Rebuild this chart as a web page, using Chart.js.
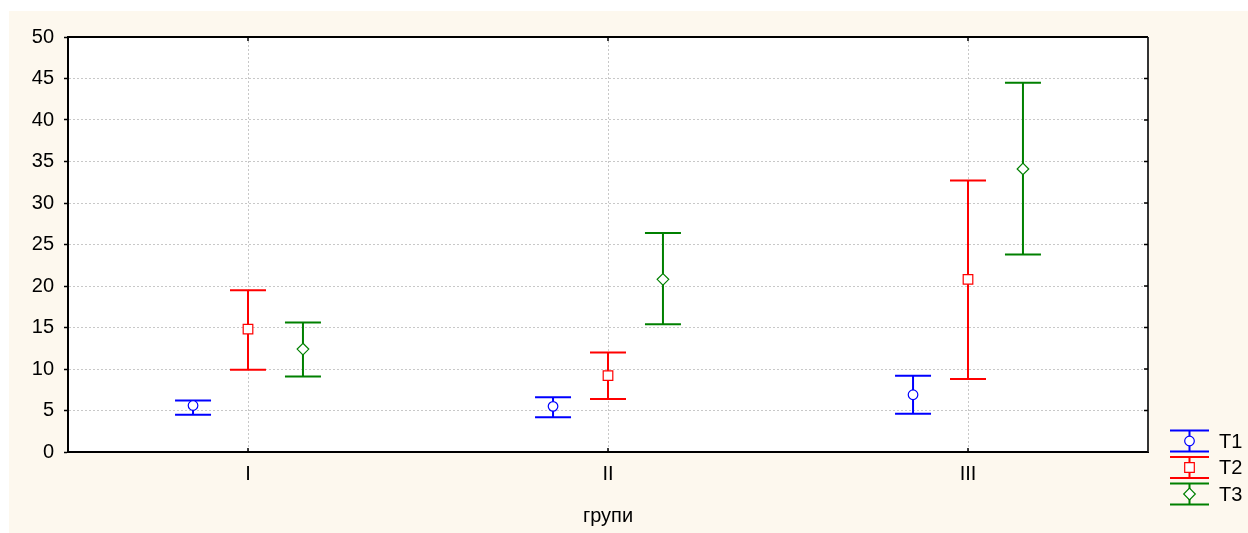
<!DOCTYPE html>
<html>
<head>
<meta charset="utf-8">
<script src="https://cdn.jsdelivr.net/npm/chart.js@4/dist/chart.umd.min.js"></script>
<style>
  html, body { margin: 0; padding: 0; background: #fff; }
  #chart { display: block; }
</style>
</head>
<body>
<canvas id="chart" width="1248" height="533"></canvas>
<script>
const groups = ["I", "II", "III"];
const yTicks = [0, 5, 10, 15, 20, 25, 30, 35, 40, 45, 50];
const axisTitle = "групи";

// means and interval bounds
const t1Mean = [5.6, 5.5, 6.9];
const t1Low = [4.5, 4.2, 4.6];
const t1High = [6.2, 6.6, 9.2];

const t2Mean = [14.8, 9.2, 20.8];
const t2Low = [9.9, 6.4, 8.8];
const t2High = [19.5, 12.0, 32.7];

const t3Mean = [12.4, 20.8, 34.1];
const t3Low = [9.1, 15.4, 23.8];
const t3High = [15.6, 26.4, 44.5];

const FONT = "'Liberation Sans', Arial, sans-serif";

function ranges(low, high) {
  return low.map((lo, i) => [lo, high[i]]);
}

function drawMarker(ctx, shape, x, y, color) {
  ctx.save();
  ctx.lineWidth = 1.2;
  ctx.strokeStyle = color;
  ctx.fillStyle = "#fff";
  ctx.beginPath();
  if (shape === "circle") {
    ctx.arc(x, y, 4.8, 0, Math.PI * 2);
  } else if (shape === "rect") {
    ctx.rect(x - 4.8, y - 4.8, 9.6, 9.6);
  } else {
    ctx.moveTo(x, y - 5.8);
    ctx.lineTo(x + 5.8, y);
    ctx.lineTo(x, y + 5.8);
    ctx.lineTo(x - 5.8, y);
    ctx.closePath();
  }
  ctx.fill();
  ctx.stroke();
  ctx.restore();
}

function drawWhisker(ctx, x, half, yTop, yBot, color) {
  ctx.save();
  ctx.strokeStyle = color;
  ctx.lineWidth = 2;
  ctx.beginPath();
  ctx.moveTo(x - half, yTop); ctx.lineTo(x + half, yTop);
  ctx.moveTo(x - half, yBot); ctx.lineTo(x + half, yBot);
  ctx.moveTo(x, yTop); ctx.lineTo(x, yBot);
  ctx.stroke();
  ctx.restore();
}

const backgroundPlugin = {
  id: "background",
  beforeDraw(chart) {
    const { ctx, width, height, chartArea } = chart;
    ctx.save();
    ctx.fillStyle = "#fff";
    ctx.fillRect(0, 0, width, height);
    ctx.fillStyle = "#fdf8ee";
    ctx.fillRect(9, 11, width - 9, height - 11);
    ctx.fillStyle = "#fff";
    ctx.fillRect(chartArea.left, chartArea.top, chartArea.right - chartArea.left, chartArea.bottom - chartArea.top);
    ctx.restore();
  }
};

const errorBarPlugin = {
  id: "errorBars",
  afterDatasetsDraw(chart) {
    const { ctx, chartArea } = chart;
    const yScale = chart.scales.y;
    const xScale = chart.scales.x;

    // frame: top and right edges plus inner ticks
    ctx.save();
    ctx.strokeStyle = "#000";
    ctx.lineWidth = 2;
    ctx.beginPath();
    ctx.moveTo(chartArea.left, chartArea.top);
    ctx.lineTo(chartArea.right, chartArea.top);
    ctx.stroke();
    ctx.strokeStyle = "#333";
    ctx.beginPath();
    ctx.moveTo(chartArea.right, chartArea.top);
    ctx.lineTo(chartArea.right, chartArea.bottom);
    ctx.stroke();
    ctx.lineWidth = 1.5;
    ctx.strokeStyle = "#000";
    ctx.beginPath();
    yTicks.forEach((v) => {
      const y = yScale.getPixelForValue(v);
      ctx.moveTo(chartArea.right - 4, y);
      ctx.lineTo(chartArea.right, y);
    });
    groups.forEach((g, i) => {
      const x = xScale.getPixelForValue(i);
      ctx.moveTo(x, chartArea.top);
      ctx.lineTo(x, chartArea.top + 4);
      ctx.moveTo(x, chartArea.bottom);
      ctx.lineTo(x, chartArea.bottom - 4);
    });
    ctx.stroke();
    ctx.restore();

    chart.data.datasets.forEach((ds, i) => {
      const meta = chart.getDatasetMeta(i);
      meta.data.forEach((bar, j) => {
        const [lo, hi] = ds.data[j];
        const half = bar.width / 2;
        drawWhisker(ctx, bar.x, half, yScale.getPixelForValue(hi), yScale.getPixelForValue(lo), ds.lineColor);
        drawMarker(ctx, ds.marker, bar.x, yScale.getPixelForValue(ds.means[j]), ds.lineColor);
      });
    });

    // legend
    const lx = 1189.5;
    const ly0 = 441;
    const step = 26.5;
    ctx.save();
    ctx.font = "20px " + FONT;
    ctx.textBaseline = "middle";
    ctx.textAlign = "left";
    chart.data.datasets.forEach((ds, i) => {
      const cy = ly0 + i * step;
      drawWhisker(ctx, lx, 19.5, cy - 10.5, cy + 10.5, ds.lineColor);
      drawMarker(ctx, ds.marker, lx, cy, ds.lineColor);
      ctx.fillStyle = "#000";
      ctx.fillText(ds.label, 1219, cy + 1);
    });
    ctx.restore();
  }
};

function series(label, low, high, means, color, marker) {
  return {
    label: label,
    data: ranges(low, high),
    means: means,
    lineColor: color,
    marker: marker,
    backgroundColor: "rgba(0,0,0,0)",
    borderWidth: 0,
    categoryPercentage: 0.458,
    barPercentage: 0.655
  };
}

new Chart(document.getElementById("chart").getContext("2d"), {
  type: "bar",
  data: {
    labels: groups,
    datasets: [
      series("T1", t1Low, t1High, t1Mean, "#0000ff", "circle"),
      series("T2", t2Low, t2High, t2Mean, "#ff0000", "rect"),
      series("T3", t3Low, t3High, t3Mean, "#008000", "diamond")
    ]
  },
  options: {
    responsive: false,
    animation: false,
    devicePixelRatio: 1,
    layout: { padding: { top: 37, right: 100, left: 0, bottom: 0 } },
    plugins: {
      legend: { display: false },
      tooltip: { enabled: false }
    },
    scales: {
      x: {
        offset: true,
        afterFit: (scale) => { scale.height = 81; },
        grid: { offset: false, color: "#c8c8c8", lineWidth: 1, drawTicks: false },
        border: { display: true, color: "#000", width: 2, dash: [2, 2] },
        ticks: { color: "#000", font: { family: FONT, size: 20 }, padding: 10 },
        title: {
          display: true,
          text: axisTitle,
          color: "#000",
          font: { family: FONT, size: 20 },
          padding: { top: 0, bottom: 5 }
        }
      },
      y: {
        min: 0,
        max: 50,
        afterFit: (scale) => { scale.width = 68; },
        grid: { color: "#c8c8c8", lineWidth: 1, drawTicks: true, tickLength: 4, tickColor: "#000", tickWidth: 1.5 },
        border: { display: true, color: "#000", width: 2, dash: [2, 2] },
        ticks: {
          stepSize: 5,
          color: "#000",
          font: { family: FONT, size: 20 },
          padding: 10
        }
      }
    }
  },
  plugins: [backgroundPlugin, errorBarPlugin]
});
</script>
</body>
</html>
